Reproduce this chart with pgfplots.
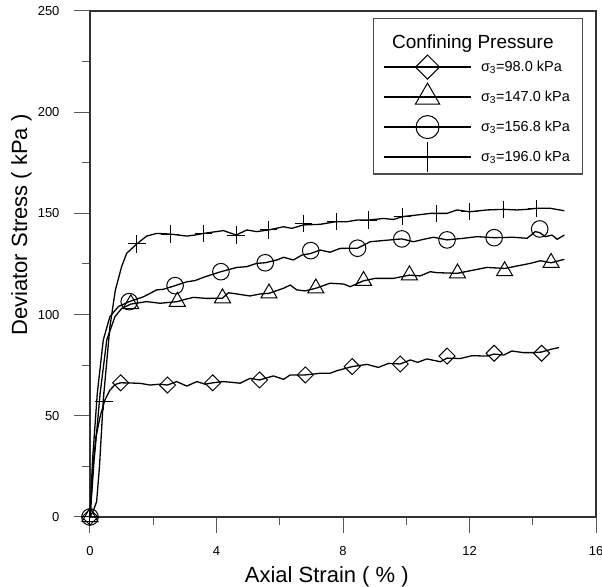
\documentclass[border=0pt]{standalone}
\usepackage{fontspec}
\setmainfont{Liberation Sans}
\usepackage{pgfplots}
\pgfplotsset{compat=1.18}
\begin{document}
\begin{tikzpicture}
\begin{axis}[
  width=506pt, height=506pt, scale only axis,
  xmin=0, xmax=16, ymin=0, ymax=250,
  xtick={0,4,8,12,16}, minor xtick={2,6,10,14},
  ytick={0,50,100,150,200,250}, minor ytick={25,75,125,175,225},
  tick align=outside, xtick pos=bottom, ytick pos=left,
  major tick length=16pt, minor tick length=8pt,
  every tick/.style={black!65, line width=1pt},
  axis line style={black!80, line width=1.2pt},
  tick label style={font=\fontsize{13}{15}\selectfont},
  xticklabel style={yshift=-10pt},
  yticklabel style={xshift=-11pt},
  /pgf/number format/assume math mode=true,
  xlabel={Axial Strain ( \% )}, ylabel={Deviator Stress ( kPa )},
  label style={font=\fontsize{22}{26}\selectfont},
  xlabel style={at={(axis description cs:0.468,-0.1285)}, anchor=base},
  ylabel style={at={(axis description cs:-0.1245,0.577)}, anchor=base},
  clip=false,
  legend style={at={(axis description cs:1,1)}, anchor=north east, xshift=-13pt, yshift=-7pt,
    draw=black!70, line width=1.2pt, font=\fontsize{14.5}{16}\selectfont,
    inner xsep=10.5pt, inner ysep=2pt, column sep=8pt, row sep=0pt},
  legend cell align=left,
  legend image code/.code={%
    \draw[overlay, mark repeat=2,mark phase=2] plot coordinates {(0pt,0pt)(43.5pt,0pt)(87pt,0pt)};
    \path[draw=none,fill=none] (0pt,-15pt) rectangle (87pt,15pt);},
]
\coordinate (ll) at (rel axis cs:0,0);
\coordinate (ur) at (rel axis cs:1,1);
% 98.0 kPa
\addplot[black, line width=1.3pt, line join=round, forget plot] coordinates {
(0,0)(0.05,12)(0.1,26.5)(0.19,39.7)(0.32,49.6)(0.47,57.8)(0.63,62.7)(0.8,65.5)(0.97,66.3)
(1.3,66.2)(1.6,66.0)(1.9,65.2)(2.2,65.6)(2.45,65.2)(2.74,66.9)(3.06,64.7)(3.38,66.9)(3.64,65.6)(3.88,66.3)
(4.22,66.9)(4.5,66.5)(4.75,66.1)(5.06,68.5)(5.36,67.7)(5.8,69.7)(6.12,68.0)(6.33,70.2)(6.81,70.2)
(7.28,71.0)(7.59,71.0)(7.81,72.3)(8.29,74.3)(8.76,75.4)(9.12,73.9)(9.44,75.9)(9.81,75.6)(10.13,77.6)
(10.36,76.4)(10.65,78.1)(11.08,76.7)(11.29,78.5)(11.71,78.3)(12.08,79.7)(12.55,79.5)(12.78,80.5)
(13.08,80.0)(13.34,82.0)(13.71,81.2)(14.03,81.2)(14.28,81.5)(14.56,82.8)(14.83,83.7)};
\addplot[black, only marks, mark=square, mark size=5.66pt, mark options={rotate=45}, line width=1pt, forget plot] coordinates {
(0,0)(0.97,66.3)(2.45,65.2)(3.88,66.3)(5.36,67.7)(6.81,70.2)(8.29,74.3)(9.81,75.6)(11.29,79.5)(12.78,80.9)(14.28,80.9)};
% 147.0 kPa
\addplot[black, line width=1.3pt, line join=round, forget plot] coordinates {
(0,0)(0.13,28)(0.32,61)(0.53,87.5)(0.79,99)(1.0,103)(1.29,105.2)(1.79,106.4)(2.22,105.6)(2.76,106.4)
(3.0,107.5)(3.27,108.5)(3.69,108.0)(4.19,108.1)(4.38,110.8)(4.85,109.7)(5.06,109.2)(5.38,110.2)(5.66,110.5)
(6.12,113.0)(6.33,114.6)(6.54,112.2)(6.8,111.7)(7.14,113.0)(7.59,115.5)(8.02,115.1)(8.23,113.8)(8.65,116.7)
(9.02,117.9)(9.6,117.9)(10.10,119.5)(10.44,119.1)(10.76,121.2)(10.97,120.7)(11.62,120.4)(12.13,122.0)
(12.55,123.3)(13.11,122.8)(13.5,124.0)(13.92,125.3)(14.24,126.6)(14.58,125.6)(15.0,127.3)};
\addplot[black, only marks, mark=triangle, mark size=9.3pt, line width=1pt, forget plot] coordinates {
(0,0)(1.29,105.2)(2.76,106.4)(4.19,108.1)(5.66,110.5)(7.14,113.0)(8.65,116.7)(10.10,119.5)(11.62,120.4)(13.11,121.5)(14.58,125.6)};
% 156.8 kPa
\addplot[black, line width=1.3pt, line join=round, forget plot] coordinates {
(0,0)(0.08,28)(0.23,61)(0.42,87.5)(0.63,99)(0.9,104)(1.24,106.4)(1.69,108.8)(2.11,112.2)(2.32,112.5)
(2.69,114.3)(3.06,116.2)(3.32,116.8)(3.64,118.7)(4.14,121.2)(4.64,123.3)(4.96,123.7)(5.27,125.3)(5.54,125.6)
(5.91,127.0)(6.12,128.3)(6.43,127.0)(6.70,129.4)(6.98,130.2)(7.28,131.9)(7.59,130.8)(7.91,132.7)(8.46,132.8)
(8.86,136.0)(9.28,136.6)(9.86,137.4)(10.23,136.0)(10.55,137.2)(10.86,138.2)(11.29,136.9)(11.81,137.7)
(12.24,138.5)(12.78,138.0)(13.39,138.2)(13.82,137.7)(14.08,141.0)(14.22,140.5)(14.4,138.5)(14.61,139.3)
(14.77,137.2)(15.0,139.3)};
\addplot[black, only marks, mark=o, mark size=8.3pt, line width=1pt, forget plot] coordinates {
(0,0)(1.24,106.4)(2.69,114.3)(4.14,121.2)(5.54,125.6)(6.98,131.6)(8.46,132.8)(9.86,137.4)(11.29,136.9)(12.78,138.0)(14.22,142.3)};
% 196.0 kPa
\addplot[black, line width=1.3pt, line join=round, forget plot] coordinates {
(0,0)(0.1,3)(0.21,7.6)(0.3,25)(0.42,57.8)(0.63,94)(0.8,112)(1.0,123.7)(1.16,130.3)(1.48,134.9)(1.79,138.8)
(2.11,140.1)(2.53,139.8)(3.06,138.8)(3.32,139.3)(3.59,140.1)(4.22,141.5)(4.62,139.3)(4.96,141.8)(5.27,141.0)
(5.64,141.8)(6.12,143.4)(6.38,142.6)(6.75,144.3)(7.28,144.6)(7.78,145.9)(8.12,145.9)(8.44,146.7)(8.81,146.7)
(9.28,147.5)(9.6,147.0)(9.88,148.4)(10.34,149.2)(10.76,150.0)(10.97,150.0)(11.29,150.0)(11.6,151.7)
(12.0,150.8)(12.55,151.7)(13.08,152.0)(13.5,151.7)(13.82,152.0)(14.11,152.5)(14.56,152.5)(15.0,151.3)};
\addplot[black, only marks, mark=+, mark size=8.7pt, line width=1pt, forget plot] coordinates {
(0,0)(0.44,57.3)(1.48,134.9)(2.53,139.8)(3.59,140.1)(4.62,139.3)(5.64,141.8)(6.75,145.1)(7.78,145.9)
(8.81,146.7)(9.88,148.4)(10.97,150.0)(12.0,150.8)(13.08,152.0)(14.11,152.5)};
% legend
\addlegendimage{empty legend}
\addlegendentry{\hspace{-89pt}\fontsize{19}{22}\selectfont\rule{0pt}{26pt}Confining Pressure}
\addlegendimage{black, line width=1.3pt, mark=square, mark size=8.5pt, mark options={rotate=45, line width=1pt}}
\addlegendentry{σ\textsubscript{3}=98.0 kPa}
\addlegendimage{black, line width=1.3pt, mark=triangle, mark size=14pt, mark options={line width=1pt}}
\addlegendentry{σ\textsubscript{3}=147.0 kPa}
\addlegendimage{black, line width=1.3pt, mark=o, mark size=11.5pt, mark options={line width=1pt}}
\addlegendentry{σ\textsubscript{3}=156.8 kPa}
\addlegendimage{black, line width=1.3pt, mark=|, mark size=15pt, mark options={line width=1pt}}
\addlegendentry{σ\textsubscript{3}=196.0 kPa}
\end{axis}
\pgfresetboundingbox
\path ([xshift=-90pt,yshift=-70pt]ll) rectangle ([xshift=6pt,yshift=11pt]ur);
\end{tikzpicture}
\end{document}
